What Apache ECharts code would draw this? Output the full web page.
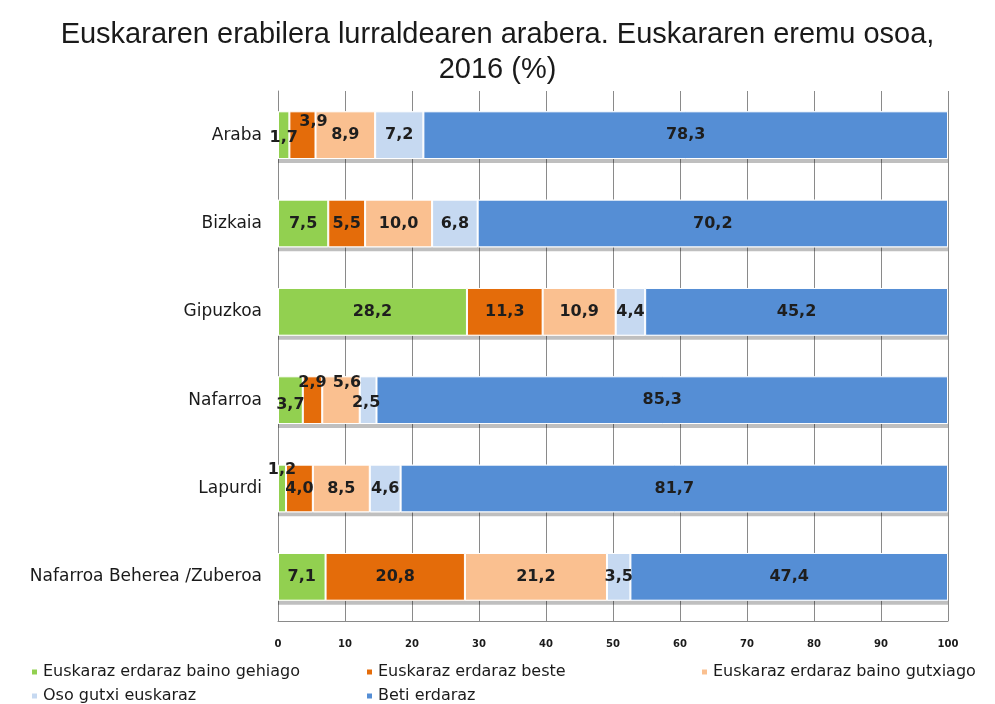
<!DOCTYPE html>
<html>
<head>
<meta charset="utf-8">
<script src="https://cdn.jsdelivr.net/npm/echarts@6/dist/echarts.min.js"></script>
<style>html,body{margin:0;padding:0;background:#fff}#c{width:995px;height:704px}</style>
</head>
<body>
<div id="c"></div>
<script>
const categories = ['Araba', 'Bizkaia', 'Gipuzkoa', 'Nafarroa', 'Lapurdi', 'Nafarroa Beherea /Zuberoa'];
const seriesNames = ['Euskaraz erdaraz baino gehiago', 'Euskaraz erdaraz beste', 'Euskaraz erdaraz baino gutxiago', 'Oso gutxi euskaraz', 'Beti erdaraz'];
const gehiago = [1.7, 7.5, 28.2, 3.7, 1.2, 7.1];
const beste = [3.9, 5.5, 11.3, 2.9, 4.0, 20.8];
const gutxiago = [8.9, 10.0, 10.9, 5.6, 8.5, 21.2];
const osoGutxi = [7.2, 6.8, 4.4, 2.5, 4.6, 3.5];
const betiErdaraz = [78.3, 70.2, 45.2, 85.3, 81.7, 47.4];
const xTicks = [0, 10, 20, 30, 40, 50, 60, 70, 80, 90, 100];

const seriesValues = [gehiago, beste, gutxiago, osoGutxi, betiErdaraz];
const totals = categories.map((_, ci) => seriesValues.reduce((s, arr) => s + arr[ci], 0));
const colors = ['#92D050', '#E46C0A', '#FAC090', '#C6D9F1', '#558ED5'];
// label nudges for small segments: key "series-category"
const labelOffsets = {
  '0-0': [0, 3], '1-0': [11, -13],
  '0-3': [0, 5], '1-3': [0, -17], '2-3': [6, -17], '3-3': [-2, 3],
  '0-4': [0, -19]
};
const fmt = v => v.toFixed(1).replace('.', ',');

// shadow band under each full bar (drawn first)
const shadowSeries = {
  name: 'shadow', type: 'bar', stack: 'shadow', barWidth: '54%', barGap: '-100%',
  silent: true, z: 1,
  itemStyle: { color: '#ffffff', shadowColor: 'rgba(0,0,0,0.25)', shadowOffsetY: 4, shadowBlur: 0 },
  label: { show: false },
  data: totals
};

const series = [shadowSeries].concat(seriesValues.map((vals, si) => ({
  name: seriesNames[si],
  type: 'bar',
  stack: 'total',
  barWidth: '54%',
  barGap: '-100%',
  z: 2,
  itemStyle: { color: colors[si], borderColor: '#ffffff', borderWidth: 1 },
  label: {
    show: true, position: 'inside',
    fontFamily: 'DejaVu Sans', fontWeight: 'bold', fontSize: 16, color: '#1e1e1e',
    formatter: p => fmt(p.value)
  },
  data: vals.map((v, ci) => {
    const off = labelOffsets[si + '-' + ci];
    return off ? { value: v, label: { offset: off } } : v;
  })
})));

const legendPos = [[25, 659], [360, 659], [695, 659], [25, 683], [360, 683]];
const legend = seriesNames.map((n, i) => ({
  data: [n], left: legendPos[i][0], top: legendPos[i][1],
  itemWidth: 7, itemHeight: 7, icon: 'rect', itemGap: 0,
  textStyle: { fontFamily: 'DejaVu Sans', fontSize: 16, color: '#1a1a1a' }
}));

const chart = echarts.init(document.getElementById('c'));
chart.setOption({
  animation: false,
  title: {
    text: 'Euskararen erabilera lurraldearen arabera. Euskararen eremu osoa,\n2016 (%)',
    left: 'center', top: 12,
    textStyle: { fontFamily: 'Liberation Sans', fontSize: 29, fontWeight: 'normal', color: '#1a1a1a', lineHeight: 35 }
  },
  legend: legend,
  grid: { left: 278, right: 47, top: 91, bottom: 83 },
  xAxis: {
    type: 'value', min: 0, max: 100, interval: 10,
    axisLine: { show: true, lineStyle: { color: '#8a8a8a', width: 1 } },
    axisTick: { show: false },
    splitLine: { show: true, lineStyle: { color: '#8a8a8a', width: 1 } },
    axisLabel: {
      margin: 18, fontFamily: 'DejaVu Sans', fontWeight: 'bold', fontSize: 10, color: '#1a1a1a',
      formatter: v => xTicks.includes(v) ? String(v) : ''
    }
  },
  yAxis: {
    type: 'category', data: categories, inverse: true,
    axisLine: { show: true, lineStyle: { color: '#8a8a8a', width: 1 } },
    axisTick: { show: false },
    axisLabel: { margin: 16, fontFamily: 'DejaVu Sans', fontSize: 17, color: '#1a1a1a' }
  },
  series: series
});
</script>
</body>
</html>
